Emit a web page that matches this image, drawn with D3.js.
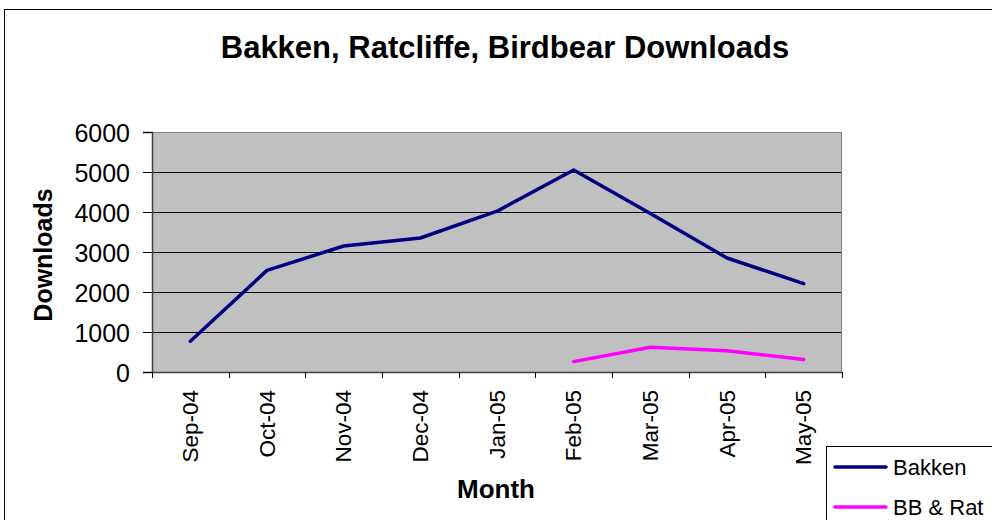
<!DOCTYPE html>
<html><head><meta charset="utf-8">
<script src="https://cdnjs.cloudflare.com/ajax/libs/d3/7.8.5/d3.min.js"></script>
<style>body{margin:0;background:#fff}svg{display:block;font-family:"Liberation Sans",Arial,sans-serif}</style>
</head><body><svg id="c" width="992" height="520"></svg>
<script>
const months = ["Sep-04","Oct-04","Nov-04","Dec-04","Jan-05","Feb-05","Mar-05","Apr-05","May-05"];
const bakken = [770, 2540, 3150, 3350, 4020, 5050, 3960, 2850, 2210];
const bbRat = [null, null, null, null, null, 260, 620, 530, 310];
const yTicks = [0, 1000, 2000, 3000, 4000, 5000, 6000];
const seriesNames = ["Bakken", "BB & Rat"];
const colors = ["#000080", "#FF00FF"];

const svg = d3.select("#c");
// outer chart border
svg.append("rect").attr("x",4.5).attr("y",9.5).attr("width",1000).attr("height",520)
  .attr("fill","#fff").attr("stroke","#000").attr("stroke-width",1);

const L=152, R=842, T=132, B=372;
const x = d3.scaleBand().domain(months).range([L,R]);
const y = d3.scaleLinear().domain([0,6000]).range([B,T]);

svg.append("rect").attr("x",L).attr("y",T).attr("width",R-L).attr("height",B-T).attr("fill","#C0C0C0");
// gridlines
svg.append("g").selectAll("line").data(yTicks.filter(d=>d>0)).join("line")
  .attr("x1",L).attr("x2",R).attr("y1",d=>Math.round(y(d))+0.5).attr("y2",d=>Math.round(y(d))+0.5)
  .attr("stroke","#000").attr("stroke-width",1);
// right/top border gray
svg.append("path").attr("d",`M${L},${T+0.5}H${R-0.5}V${B}`).attr("fill","none").attr("stroke","#808080").attr("stroke-width",1);

// y axis
const ya = svg.append("g").attr("transform",`translate(${L},0)`)
  .call(d3.axisLeft(y).tickValues(yTicks).tickSize(9).tickPadding(13).tickFormat(d3.format("d")));
ya.select(".domain").attr("stroke","#404040").attr("stroke-width",1.5);
ya.selectAll(".tick line").attr("stroke","#000");
ya.selectAll("text").attr("font-size",25).attr("fill","#000").attr("font-family","Liberation Sans, Arial").attr("dy","0.36em");

// x axis
const xa = svg.append("g").attr("transform",`translate(0,${B})`)
  .call(d3.axisBottom(x).tickSize(0).tickPadding(0));
xa.select(".domain").attr("stroke","#404040").attr("stroke-width",1.5);
xa.selectAll(".tick text").attr("font-size",22.5).attr("fill","#000").attr("font-family","Liberation Sans, Arial")
  .attr("text-anchor","end").attr("transform","translate(7.5,18) rotate(-90)").attr("dy","0").attr("y",0).attr("x",0);
// category boundary ticks
const bounds = months.map(m=>x(m)).concat([R]);
svg.append("g").selectAll("line").data(bounds).join("line")
  .attr("x1",d=>Math.round(d)+0.5).attr("x2",d=>Math.round(d)+0.5).attr("y1",B).attr("y2",B+6)
  .attr("stroke","#000");

// lines
const line = d3.line().defined(d=>d.v!=null).x(d=>x(d.m)+x.bandwidth()/2).y(d=>y(d.v));
[bakken, bbRat].forEach((s,i)=>{
  svg.append("path").datum(months.map((m,j)=>({m, v:s[j]})))
    .attr("d",line).attr("fill","none").attr("stroke",colors[i]).attr("stroke-width",3.5)
    .attr("stroke-linejoin","round").attr("stroke-linecap","round");
});

// titles
svg.append("text").attr("x",505).attr("y",58).attr("text-anchor","middle")
  .attr("font-size",31).attr("font-weight","bold").text("Bakken, Ratcliffe, Birdbear Downloads");
svg.append("text").attr("transform","translate(52,255) rotate(-90)").attr("text-anchor","middle")
  .attr("font-size",25).attr("font-weight","bold").text("Downloads");
svg.append("text").attr("x",496).attr("y",498).attr("text-anchor","middle")
  .attr("font-size",26).attr("font-weight","bold").text("Month");

// legend
svg.append("rect").attr("x",826.5).attr("y",446.5).attr("width",200).attr("height",100)
  .attr("fill","#fff").attr("stroke","#000");
seriesNames.forEach((n,i)=>{
  const yy = 467 + i*40;
  svg.append("line").attr("x1",835).attr("x2",886).attr("y1",yy).attr("y2",yy)
    .attr("stroke",colors[i]).attr("stroke-width",3.5).attr("stroke-linecap","round");
  svg.append("text").attr("x",893).attr("y",yy+8).attr("font-size",22).text(n);
});
</script></body></html>
